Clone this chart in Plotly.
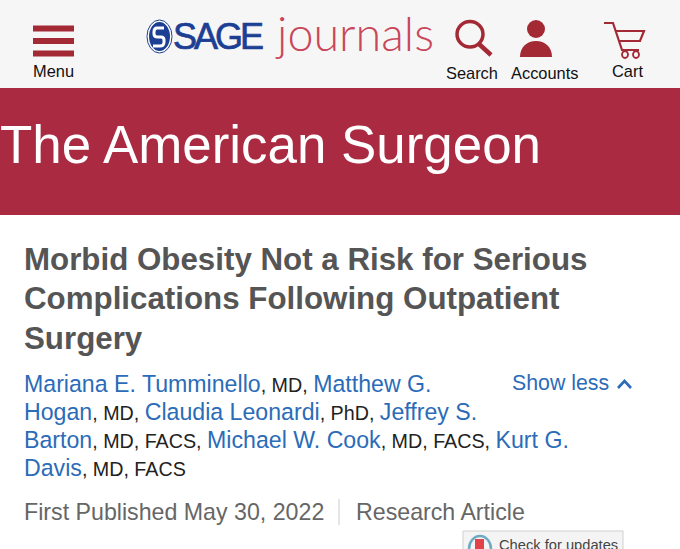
import plotly.graph_objects as go

FONT = 'Liberation Sans'
RED = '#a32a35'
BANNER = '#aa2a42'
BLUE = '#2b6cb8'
GREY = '#555555'

navLabels = ['Menu', 'Search', 'Accounts', 'Cart']
navX = [53, 472, 544.5, 627]
navY = [71, 72.5, 72.5, 71]

journalName = 'The American Surgeon'
titleLines = ['Morbid Obesity Not a Risk for Serious',
              'Complications Following Outpatient',
              'Surgery']
titleY = [259, 298.5, 338]

def author(name):
    return '<span style="color:' + BLUE + ';font-size:23.15px">' + name + '</span>'

def suffix(text):
    return '<span style="color:#222222;font-size:19.7px">' + text + '</span>'

authorLines = [
    author('Mariana E. Tumminello') + suffix(', MD, ') + author('Matthew G.'),
    author('Hogan') + suffix(', MD, ') + author('Claudia Leonardi') + suffix(', PhD, ') + author('Jeffrey S.'),
    author('Barton') + suffix(', MD, FACS, ') + author('Michael W. Cook') + suffix(', MD, FACS, ') + author('Kurt G.'),
    author('Davis') + suffix(', MD, FACS'),
]
authorY = [384, 412, 440, 468]

showLess = 'Show less'
published = 'First Published May 30, 2022'
articleType = 'Research Article'
updates = 'Check for updates'

fig = go.Figure()

shapes = []

def rect(x0, y0, x1, y1, color, line=None):
    shapes.append(dict(type='rect', x0=x0, y0=y0, x1=x1, y1=y1, fillcolor=color,
                       line=dict(color=line or color, width=1 if line else 0), layer='below'))

def circle(x0, y0, x1, y1, fill, line=None, w=0):
    shapes.append(dict(type='circle', x0=x0, y0=y0, x1=x1, y1=y1, fillcolor=fill,
                       line=dict(color=line or fill, width=w), layer='above'))

def path(d, color=None, fill='rgba(0,0,0,0)', w=2):
    shapes.append(dict(type='path', path=d, fillcolor=fill,
                       line=dict(color=color or fill, width=w), layer='above'))

rect(0, 0, 680, 88, '#f7f6f7')
rect(0, 88, 680, 215, BANNER)
rect(0, 215, 680, 549, '#ffffff')

# menu bars
for y in [25.5, 38, 50.5]:
    rect(33, y, 74, y + 6, RED)

# sage logo
circle(147, 20, 172, 53, '#ffffff', '#1c3f94', 1)
circle(149, 22, 170, 51, '#1c3f94')
path('M 164 28 L 157 28 Q 154 28 154 32 L 154 34 Q 154 37 158 37 L 161 37 Q 164 37 164 40 L 164 42 Q 164 46 160 46 L 153 46',
     '#ffffff', w=3)

# search
circle(457, 21.5, 483, 47, 'rgba(0,0,0,0)', RED, 3.5)
path('M 479 44 L 491 55', RED, w=4.5)

# accounts
circle(527, 20, 545, 38, RED)
path('M 520 57 C 520 47 527 41 536 41 C 545 41 552 47 552 57 Z', fill=RED, w=0)

# cart
path('M 604 23 L 613 23 L 622 50 L 639 50', RED, w=2.2)
path('M 615 31 L 644 31 L 640 41 L 619 41', RED, w=2.2)
circle(622, 51, 628, 58, '#f7f6f7', RED, 1.8)
circle(633, 51, 639, 58, '#f7f6f7', RED, 1.8)

# show less chevron
path('M 618 388 L 624.5 381 L 631 388', BLUE, w=2.6)

# separator
shapes.append(dict(type='line', x0=339, x1=339, y0=499, y1=525, line=dict(color='#cccccc', width=1)))

# check for updates badge
rect(463, 531, 623, 560, '#f4f4f4', '#cfcfcf')
circle(469, 536, 491, 562, '#f4f4f4', '#6fa9c4', 2.5)
path('M 469 549 L 474 549 L 474 556 L 469 556 Z', fill='#f0c850', w=0)
path('M 475 539 L 484 539 L 484 552 L 475 552 Z', fill='#e0444a', w=0)

annotations = []

def label(text, x, y, size, color, anchor='left', family=FONT, weight=None, xshift=0):
    annotations.append(dict(text=text, x=x, y=y, xref='x', yref='y', showarrow=False,
                            xanchor=anchor, yanchor='middle', align=anchor, xshift=xshift,
                            font=dict(family=family, size=size, color=color, weight=weight)))

for i in range(len(navLabels)):
    label(navLabels[i], navX[i], navY[i], 16.4, '#111111', 'center')

label('<span style="letter-spacing:-3px;stroke:#1c3f94;stroke-width:0.7px">SAGE</span>', 171, 36, 36, '#1c3f94')
label('journals', 272.5, 33, 46.7, '#c8475a', 'left', 'Lato', 300)
# banner text starts right at the page edge, so it is pushed left from x=0
label(journalName, 0, 144, 52.9, '#ffffff', xshift=-2)

for i in range(len(titleLines)):
    label('<b>' + titleLines[i] + '</b>', 22, titleY[i], 31.3, GREY)

for i in range(len(authorLines)):
    label(authorLines[i], 22, authorY[i], 23.15, BLUE)

label(showLess, 510, 383, 21.3, BLUE)
label(published, 22, 512, 23.2, '#666666')
label(articleType, 354, 512, 23.2, '#666666')
label(updates, 497, 545, 14.7, '#444444')

fig.update_layout(
    width=680, height=549,
    margin=dict(l=0, r=0, t=0, b=0),
    paper_bgcolor='#ffffff', plot_bgcolor='#ffffff',
    xaxis=dict(range=[0, 680], visible=False, fixedrange=True),
    yaxis=dict(range=[549, 0], visible=False, fixedrange=True),
    shapes=shapes,
    annotations=annotations,
    showlegend=False,
)

fig.write_html("out.html", config={'displayModeBar': False},
               post_script="document.body.style.margin='0';document.documentElement.style.overflow='hidden';")
